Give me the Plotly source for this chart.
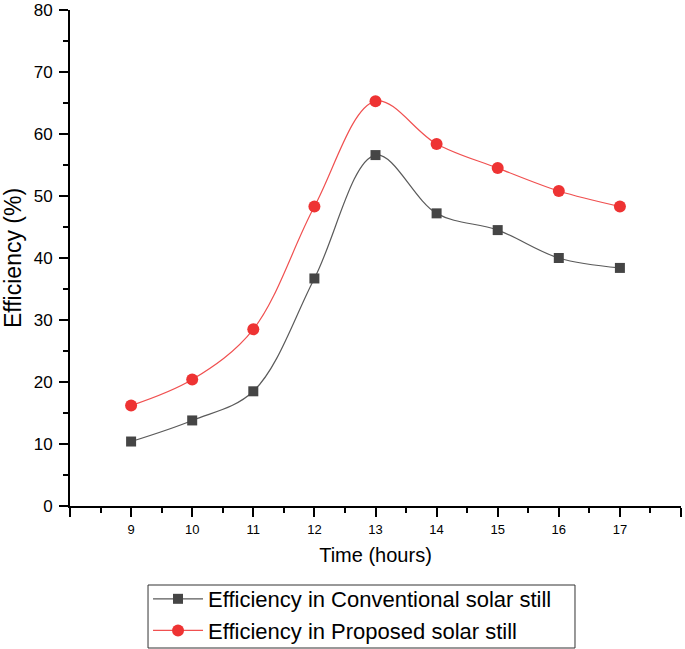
import plotly.graph_objects as go

hours = [9, 10, 11, 12, 13, 14, 15, 16, 17]
conventional = [10.4, 13.8, 18.5, 36.7, 56.6, 47.2, 44.5, 40.0, 38.4]
proposed = [16.2, 20.4, 28.5, 48.3, 65.3, 58.4, 54.5, 50.8, 48.3]
x_ticks = [8, 9, 10, 11, 12, 13, 14, 15, 16, 17, 18]
x_labels = ["", "9", "10", "11", "12", "13", "14", "15", "16", "17", ""]

font_family = "Arial, Liberation Sans, sans-serif"

fig = go.Figure()
fig.add_trace(go.Scatter(
    x=hours, y=conventional, mode="lines+markers",
    name="Efficiency in Conventional solar still",
    line=dict(color="#5a5a5a", width=1.2, shape="spline", smoothing=1.0),
    marker=dict(symbol="square", size=10, color="#454545"),
))
fig.add_trace(go.Scatter(
    x=hours, y=proposed, mode="lines+markers",
    name="Efficiency in Proposed solar still",
    line=dict(color="#f05050", width=1.2, shape="spline", smoothing=1.0),
    marker=dict(symbol="circle", size=12, color="#ee3333"),
))

# legend frame (paper coordinates)
fig.add_shape(type="rect", xref="paper", yref="paper",
              x0=0.1277, x1=0.8265, y0=-0.2863, y1=-0.1593,
              line=dict(color="#333333", width=1), fillcolor="rgba(0,0,0,0)")

fig.update_layout(
    width=685, height=649,
    margin=dict(l=70, r=4, t=10, b=143, autoexpand=False),
    paper_bgcolor="white", plot_bgcolor="white",
    font=dict(family=font_family, color="black"),
    showlegend=True,
    legend=dict(
        x=0.1277, y=-0.1452, xanchor="left", yanchor="top",
        borderwidth=0,
        font=dict(size=22, family=font_family, color="black"),
        bgcolor="rgba(0,0,0,0)", tracegroupgap=0, itemwidth=50,
    ),
    xaxis=dict(
        range=[8, 18], tickmode="array", tickvals=x_ticks, ticktext=x_labels,
        showline=True, linecolor="black", linewidth=2,
        ticks="outside", ticklen=9, tickwidth=2, tickcolor="black",
        minor=dict(ticks="outside", ticklen=5, tickwidth=2, tickcolor="black",
                   dtick=0.5, tick0=8),
        showgrid=False, zeroline=False, automargin=False,
        tickfont=dict(size=13, color="black"), ticklabelstandoff=1,
        title=dict(text="Time (hours)", font=dict(size=20, color="black"), standoff=12),
    ),
    yaxis=dict(
        range=[0, 80], dtick=10, tick0=0,
        showline=True, linecolor="black", linewidth=2,
        ticks="outside", ticklen=9, tickwidth=2, tickcolor="black",
        minor=dict(ticks="outside", ticklen=5, tickwidth=2, tickcolor="black",
                   dtick=5, tick0=0),
        showgrid=False, zeroline=False, automargin=False,
        tickfont=dict(size=17, color="black"), ticklabelstandoff=3,
        title=dict(text="Efficiency (%)", font=dict(size=23, color="black"), standoff=9),
    ),
)

post = (
    "document.documentElement.style.margin='0';"
    "document.body.style.margin='0';"
    "document.body.style.overflow='hidden';"
    "var gd=document.getElementById('{plot_id}');"
    "Plotly.relayout(gd,{width:685,height:649});"
)

fig.write_html("out.html", post_script=post, config={"displayModeBar": False})
